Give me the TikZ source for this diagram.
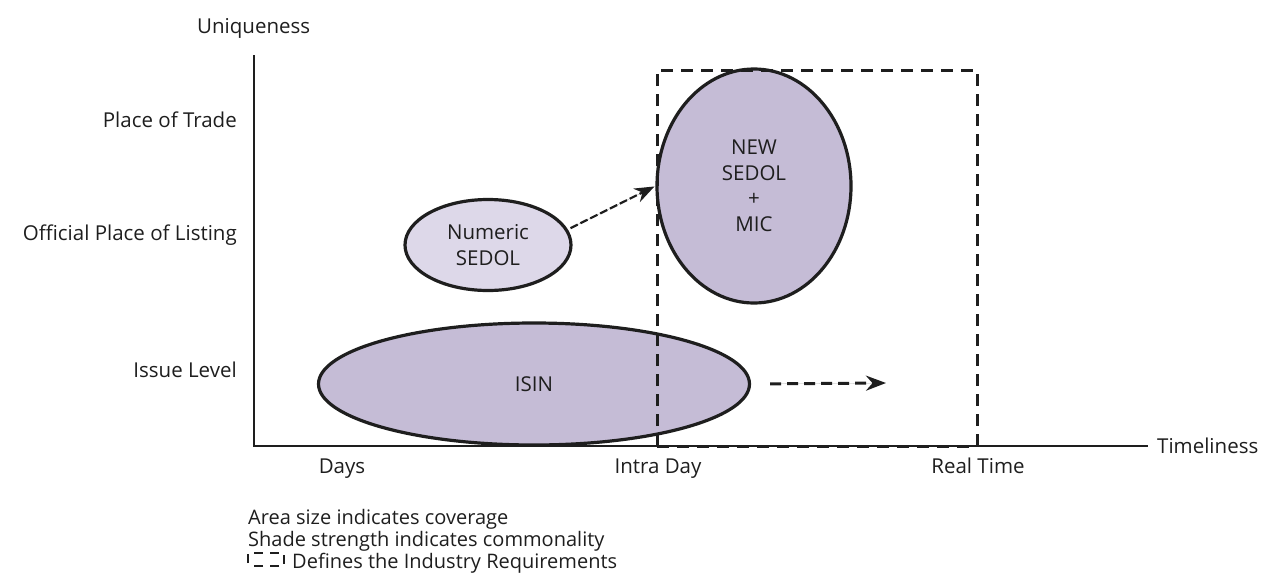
\documentclass[tikz,border=0pt]{standalone}
\usepackage{fontspec}
\setmainfont{Open Sans}
\usetikzlibrary{shapes.geometric,arrows.meta}

\definecolor{shadedark}{HTML}{C5BCD6}
\definecolor{shadelight}{HTML}{DDD8E9}
\definecolor{inkgrey}{HTML}{1E1E1E}

\begin{document}
\begin{tikzpicture}[x=1pt,y=-1pt,
		font=\fontsize{20.5}{25.5}\selectfont,
		blob/.style={ellipse, draw=inkgrey, line width=3.2pt, inner sep=0pt, align=center, text=inkgrey},
		axislabel/.style={inner sep=0pt, text=inkgrey},
		keylabel/.style={inner sep=0pt, text=inkgrey, font=\fontsize{20}{24}\selectfont},
		reqbox/.style={draw=inkgrey, line width=3pt, dash pattern=on 12pt off 8pt},
		trend/.style={draw=inkgrey, fill=inkgrey, line width=2pt, dash pattern=on 9pt off 4pt, -{Stealth[length=20pt,width=15pt]}}]
	\useasboundingbox (0,0) rectangle (1261,581);

	% axes
	\coordinate (origin) at (254,446);
	\coordinate (ytop) at (254,55);
	\coordinate (xend) at (1148,446);
	\draw[line width=1.5pt, inkgrey] (ytop) -- (origin) -- (xend);

	\node (uniq) [axislabel, anchor=base west] at (197,33) {Uniqueness};
	\node (timel) [axislabel, anchor=base west] at (1157,453) {Timeliness};

	% levels of uniqueness
	\node (trade) [axislabel, anchor=base east] at (237,127) {Place of Trade};
	\node (listing) [axislabel, anchor=base east] at (237,240) {Official Place of Listing};
	\node (issue) [axislabel, anchor=base east] at (237,377) {Issue Level};

	% timeliness
	\node (days) [axislabel, anchor=base] at (342,473) {Days};
	\node (intra) [axislabel, anchor=base] at (658,473) {Intra Day};
	\node (realtime) [axislabel, anchor=base] at (978,473) {Real Time};

	% identifiers
	\node (isin) [blob, fill=shadedark, minimum width=431pt, minimum height=122pt] at (534,384) {ISIN};
	\node (numeric) [blob, fill=shadelight, minimum width=166pt, minimum height=91pt] at (488,245) {Numeric\\SEDOL};
	\node (newsedol) [blob, fill=shadedark, minimum width=194pt, minimum height=234pt] at (754,186) {NEW\\SEDOL\\+\\MIC};

	% industry requirements, drawn over the ellipses
	\draw[reqbox] (657,446) rectangle (977,70);

	\coordinate (future) at (886,383);
	\draw[trend, line width=2.2pt, dash pattern=on 8pt off 3pt, shorten <=3pt, shorten >=1pt] (numeric.11) -- (newsedol.west);
	\draw[trend, line width=3pt, dash pattern=on 11pt off 6pt, shorten <=19pt] (isin.east) -- (future);

	% key
	\node (key1) [keylabel, anchor=base west] at (248,524) {Area size indicates coverage};
	\node (key2) [keylabel, anchor=base west] at (248,546) {Shade strength indicates commonality};
	\node (key3) [keylabel, anchor=base west] at (292,568) {Defines the Industry Requirements};
	\draw[draw=inkgrey, line width=2.4pt, dash pattern=on 9pt off 7pt, dash phase=-3pt] (248,566) rectangle (284,553);
\end{tikzpicture}
\end{document}
